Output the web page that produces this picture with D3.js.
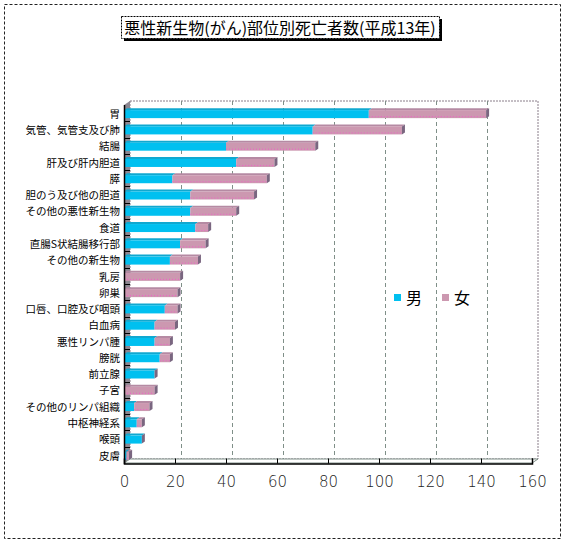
<!DOCTYPE html>
<html>
<head>
<meta charset="utf-8">
<script src="https://cdn.jsdelivr.net/npm/d3@7"></script>
<style>
  body { margin: 0; background: #fff; }
  svg { display: block; }
</style>
</head>
<body>
<script>
// 部位 (top to bottom)
var categories = ["胃", "気管、気管支及び肺", "結腸", "肝及び肝内胆道", "膵", "胆のう及び他の胆道",
  "その他の悪性新生物", "食道", "直腸S状結腸移行部", "その他の新生物", "乳房", "卵巣",
  "口唇、口腔及び咽頭", "白血病", "悪性リンパ腫", "膀胱", "前立腺", "子宮",
  "その他のリンパ組織", "中枢神経系", "喉頭", "皮膚"];
var male   = [96, 74, 40, 44, 19, 26, 26, 28, 22, 18, 0, 0, 16, 12, 12, 14, 12, 0, 4, 5, 7, 1];
var female = [46, 35, 35, 15, 37, 25, 18, 5, 10, 11, 22, 21, 5, 8, 6, 4, 0, 12, 6, 2, 0, 1];
var seriesNames = ["男", "女"];
var xTicks = [0, 20, 40, 60, 80, 100, 120, 140, 160];

var W = 568, H = 547;
var dx = 6, dy = -4;          // depth offset of the back wall
var bdx = 3, bdy = -2;        // depth of the bars

var svg = d3.select("body").append("svg")
    .attr("width", W)
    .attr("height", H);

svg.append("rect").attr("width", W).attr("height", H).attr("fill", "#fff");

// outer dashed frame
svg.append("rect")
    .attr("x", 4.5).attr("y", 4.5)
    .attr("width", 556).attr("height", 534)
    .attr("fill", "none")
    .attr("stroke", "#222")
    .attr("stroke-dasharray", "3,2");

var x = d3.scaleLinear().domain([0, 160]).range([124, 532]);
var y = d3.scaleBand().domain(categories).range([105, 463]);

var colors = {male: "#00c0f0", female: "#cc98b0"};

// back wall
svg.append("rect")
    .attr("x", x(0) + dx).attr("y", y.range()[0] + dy)
    .attr("width", x(160) - x(0)).attr("height", y.range()[1] - y.range()[0])
    .attr("fill", "#fff")
    .attr("stroke", "#8a7f8a")
    .attr("stroke-dasharray", "2,1");

// gridlines on back wall
svg.append("g")
  .selectAll("line")
  .data(xTicks.slice(1, -1))
  .enter().append("line")
    .attr("x1", function(d) { return x(d) + dx + 0.5; })
    .attr("x2", function(d) { return x(d) + dx + 0.5; })
    .attr("y1", y.range()[0] + dy)
    .attr("y2", y.range()[1] + dy)
    .attr("stroke", "#7f8f88")
    .attr("stroke-dasharray", "4,3");

// left side wall
svg.append("path")
    .attr("d", "M" + x(0) + "," + y.range()[0] +
      "L" + (x(0) + dx) + "," + (y.range()[0] + dy) +
      "L" + (x(0) + dx) + "," + (y.range()[1] + dy) +
      "L" + x(0) + "," + y.range()[1] + "Z")
    .attr("fill", "#8d8791");

// floor
svg.append("path")
    .attr("d", "M" + x(0) + "," + y.range()[1] +
      "L" + (x(0) + dx) + "," + (y.range()[1] + dy) +
      "L" + (x(160) + dx) + "," + (y.range()[1] + dy) +
      "L" + x(160) + "," + y.range()[1] + "Z")
    .attr("fill", "#fff")
    .attr("stroke", "#7f8f88")
    .attr("stroke-width", 1);

// category boundary marks on the side wall
svg.append("g")
  .selectAll("line")
  .data(categories.slice(1))
  .enter().append("line")
    .attr("x1", x(0)).attr("x2", x(0) + dx)
    .attr("y1", function(d) { return Math.round(y(d)) + 0.5; })
    .attr("y2", function(d) { return Math.round(y(d)) + 0.5; })
    .attr("stroke", "#000");

// bars
var barH = 8;
var rows = categories.map(function(c, i) {
  return {cat: c, segs: [
    {v0: 0, v1: male[i], color: colors.male, key: "m"},
    {v0: male[i], v1: male[i] + female[i], color: colors.female, key: "f"}
  ]};
});

var row = svg.append("g").selectAll("g")
    .data(rows)
    .enter().append("g")
    .attr("transform", function(d) {
      return "translate(0," + (y(d.cat) + (y.bandwidth() - barH) / 2 + 1) + ")";
    });

row.each(function(d) {
  var g = d3.select(this);
  var segs = d.segs.filter(function(s) { return s.v1 > s.v0; });
  segs.forEach(function(s) {
    var x0 = x(s.v0), x1 = x(s.v1);
    // top face
    g.append("path")
      .attr("d", "M" + x0 + ",0L" + (x0 + bdx) + "," + bdy + "L" + (x1 + bdx) + "," + bdy + "L" + x1 + ",0Z")
      .attr("fill", s.key === "m" ? "#10a8d0" : "#b58aa3");
    // front face
    g.append("rect")
      .attr("x", x0).attr("y", 0)
      .attr("width", x1 - x0).attr("height", barH)
      .attr("fill", s.color);
    if (s.key === "f") {
      g.append("line")
        .attr("x1", x0).attr("x2", x1)
        .attr("y1", barH - 1.5).attr("y2", barH - 1.5)
        .attr("stroke", "#f060c8")
        .attr("stroke-dasharray", "1,2");
    }
  });
  if (segs.length) {
    var last = segs[segs.length - 1];
    var xe = x(last.v1);
    // end cap
    g.append("path")
      .attr("d", "M" + xe + ",0L" + (xe + bdx) + "," + bdy + "L" + (xe + bdx) + "," + (barH + bdy) + "L" + xe + "," + barH + "Z")
      .attr("fill", "#7a6680");
  }
});

// axes lines
svg.append("line")
    .attr("x1", x(0) + 0.5).attr("x2", x(0) + 0.5)
    .attr("y1", y.range()[0]).attr("y2", y.range()[1] + 1)
    .attr("stroke", "#000").attr("stroke-width", 1.5);

var xAxis = svg.append("g")
    .attr("transform", "translate(0," + (y.range()[1] + 0.5) + ")")
    .call(d3.axisBottom(x).tickValues(xTicks).tickSize(-5).tickPadding(10));
xAxis.select(".domain").attr("stroke", "#000").attr("stroke-width", 1.5);
xAxis.selectAll(".tick line").attr("stroke", "#000");
xAxis.selectAll("text")
    .attr("font-family", "'DejaVu Sans', sans-serif")
    .attr("font-size", 15)
    .attr("font-weight", 300)
    .attr("fill", "#222")
    .attr("dy", "0.9em");

// category labels
svg.append("g").selectAll("text")
    .data(categories)
    .enter().append("text")
    .attr("x", 120)
    .attr("y", function(d) { return y(d) + y.bandwidth() / 2 + 1; })
    .attr("dy", "0.35em")
    .attr("text-anchor", "end")
    .attr("font-family", "'Noto Sans CJK JP', sans-serif")
    .attr("font-size", 10.5)
    .attr("fill", "#000")
    .text(function(d) { return d; });

// title box with shadow
var title = svg.append("g");
title.append("rect")
    .attr("x", 124).attr("y", 19).attr("width", 318).attr("height", 22)
    .attr("fill", "#000");
title.append("rect")
    .attr("x", 121.5).attr("y", 16.5).attr("width", 318).attr("height", 22)
    .attr("fill", "#fff")
    .attr("stroke", "#000")
    .attr("stroke-dasharray", "2,1");
title.append("text")
    .attr("x", 280).attr("y", 33.5)
    .attr("text-anchor", "middle")
    .attr("font-family", "'Noto Sans CJK JP', sans-serif")
    .attr("font-size", 16)
    .attr("fill", "#000")
    .text("悪性新生物(がん)部位別死亡者数(平成13年)");

// legend
var legend = svg.append("g").selectAll("g")
    .data(seriesNames)
    .enter().append("g")
    .attr("transform", function(d, i) { return "translate(" + (394 + i * 48) + ",294)"; });
legend.append("rect")
    .attr("width", 7).attr("height", 7)
    .attr("fill", function(d, i) { return i === 0 ? colors.male : colors.female; });
legend.append("text")
    .attr("x", 12).attr("y", 4)
    .attr("dy", "0.38em")
    .attr("font-family", "'Noto Sans CJK JP', sans-serif")
    .attr("font-size", 16)
    .attr("fill", "#000")
    .text(function(d) { return d; });
</script>
</body>
</html>
